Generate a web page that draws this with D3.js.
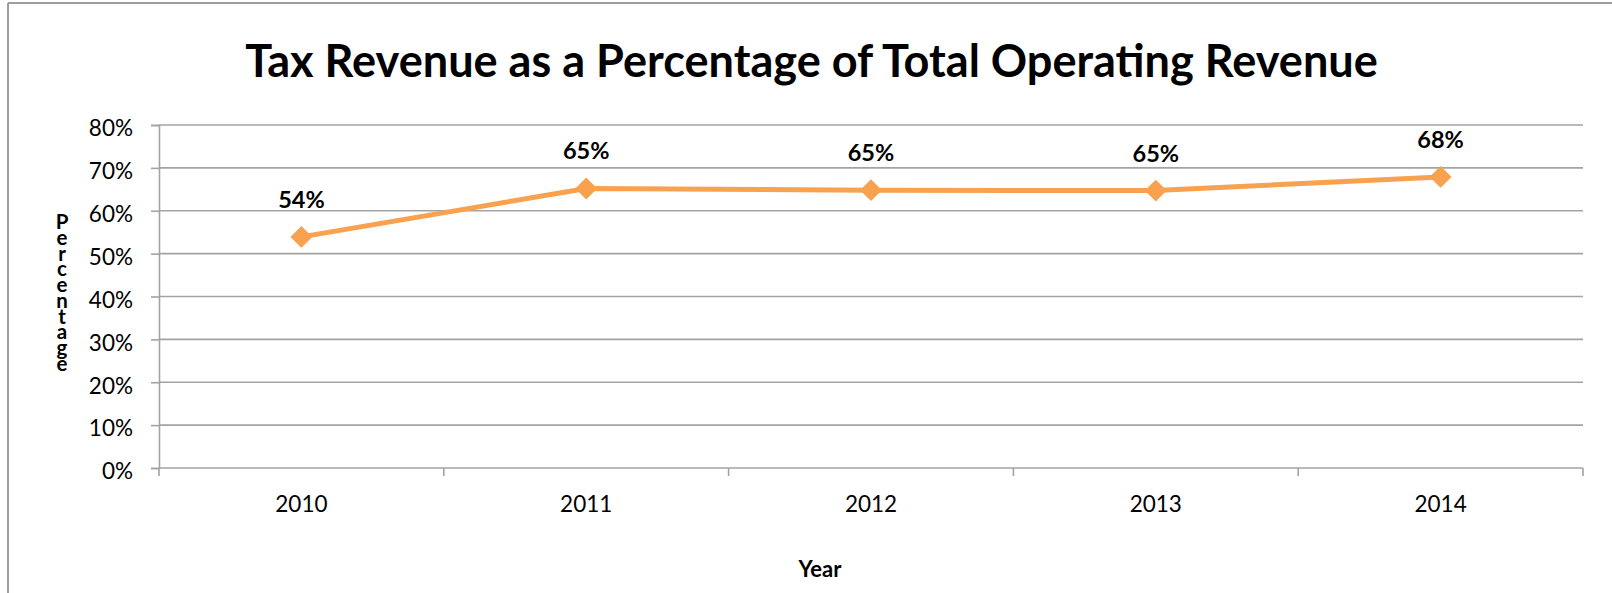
<!DOCTYPE html>
<html>
<head>
<meta charset="utf-8">
<script src="https://cdn.jsdelivr.net/npm/d3@7"></script>
<style>
  html, body { margin: 0; padding: 0; background: #fff; }
  svg { display: block; }
</style>
</head>
<body>
<svg id="chart" width="1612" height="593"></svg>
<script>
const years = ["2010", "2011", "2012", "2013", "2014"];
const values = [53.9, 65.2, 64.8, 64.7, 67.9];
const valueLabels = ["54%", "65%", "65%", "65%", "68%"];
const yTicks = [0, 10, 20, 30, 40, 50, 60, 70, 80];
const title = "Tax Revenue as a Percentage of Total Operating Revenue";
const xTitle = "Year";
const yTitle = "Percentage";

const W = 1612, H = 593;
const FONT = "Lato, 'Open Sans', sans-serif";
const GRID = "#a3a3a3";
const LINE = "#F8A14F";

const svg = d3.select("#chart");

// outer frame (top and left edges visible)
svg.append("line").attr("x1", 8).attr("x2", W).attr("y1", 3).attr("y2", 3)
  .attr("stroke", "#9d9d9d").attr("stroke-width", 2);
svg.append("line").attr("x1", 8).attr("x2", 8).attr("y1", 3).attr("y2", H)
  .attr("stroke", "#9d9d9d").attr("stroke-width", 2);

const x = d3.scaleBand().domain(years).range([159, 1583]);
const y = d3.scaleLinear().domain([0, 80]).range([468, 125]);

// gridlines
svg.append("g").selectAll("line").data(yTicks).join("line")
  .attr("x1", x.range()[0]).attr("x2", x.range()[1])
  .attr("y1", d => y(d)).attr("y2", d => y(d))
  .attr("stroke", GRID).attr("stroke-width", 1.6);

// y axis
const yAxis = svg.append("g").attr("transform", `translate(${x.range()[0]},0)`)
  .call(d3.axisLeft(y).tickValues(yTicks).tickSize(8).tickPadding(18).tickFormat(d => d + "%"));
yAxis.select(".domain").attr("stroke", GRID).attr("stroke-width", 1.6);
yAxis.selectAll(".tick line").attr("stroke", GRID).attr("stroke-width", 1.6);
yAxis.selectAll(".tick text").attr("font-family", FONT).attr("font-size", 22.5)
  .attr("fill", "#000").attr("dy", "0.48em");

// x axis: boundary ticks
const bounds = years.map(d => x(d)).concat([x.range()[1]]);
svg.append("g").selectAll("line").data(bounds).join("line")
  .attr("x1", d => d).attr("x2", d => d)
  .attr("y1", y(0)).attr("y2", y(0) + 8)
  .attr("stroke", GRID).attr("stroke-width", 1.6);

// x labels
svg.append("g").selectAll("text").data(years).join("text")
  .attr("x", d => x(d) + x.bandwidth() / 2)
  .attr("y", 511.5)
  .attr("text-anchor", "middle")
  .attr("font-family", FONT).attr("font-size", 22.5).attr("fill", "#000")
  .text(d => d);

// line
const pts = years.map((d, i) => ({ year: d, v: values[i], label: valueLabels[i] }));
svg.append("path").datum(pts)
  .attr("fill", "none").attr("stroke", LINE).attr("stroke-width", 5)
  .attr("stroke-linejoin", "round")
  .attr("d", d3.line().x(d => x(d.year) + x.bandwidth() / 2).y(d => y(d.v)));

// diamond markers
const diamond = d3.symbol().type(d3.symbolSquare).size(240);
svg.append("g").selectAll("path").data(pts).join("path")
  .attr("transform", d => `translate(${x(d.year) + x.bandwidth() / 2},${y(d.v)}) rotate(45)`)
  .attr("d", diamond())
  .attr("fill", LINE);

// data labels
svg.append("g").selectAll("text").data(pts).join("text")
  .attr("x", d => x(d.year) + x.bandwidth() / 2)
  .attr("y", d => y(d.v) - 29)
  .attr("text-anchor", "middle")
  .attr("font-family", FONT).attr("font-weight", "bold").attr("font-size", 23.5).attr("fill", "#000")
  .text(d => d.label);

// title
const t = svg.append("text")
  .attr("x", (245 + 1378) / 2).attr("y", 76.5)
  .attr("text-anchor", "middle")
  .attr("font-family", FONT).attr("font-weight", "bold").attr("font-size", 42).attr("fill", "#000")
  .text(title);
const tw = t.node().getComputedTextLength();
t.attr("font-size", 42 * 1133 / tw);

// x title
svg.append("text").attr("x", 820).attr("y", 577).attr("text-anchor", "middle")
  .attr("font-family", FONT).attr("font-weight", "bold").attr("font-size", 22).attr("fill", "#000")
  .text(xTitle);

// y title: stacked letters in a single vertical text
svg.append("text")
  .attr("x", 62).attr("y", 209)
  .attr("font-family", FONT).attr("font-weight", "bold").attr("font-size", 20.5)
  .attr("fill", "#000")
  .attr("textLength", 166)
  .attr("lengthAdjust", "spacing")
  .style("writing-mode", "vertical-rl")
  .style("text-orientation", "upright")
  .text(yTitle);
</script>
</body>
</html>
